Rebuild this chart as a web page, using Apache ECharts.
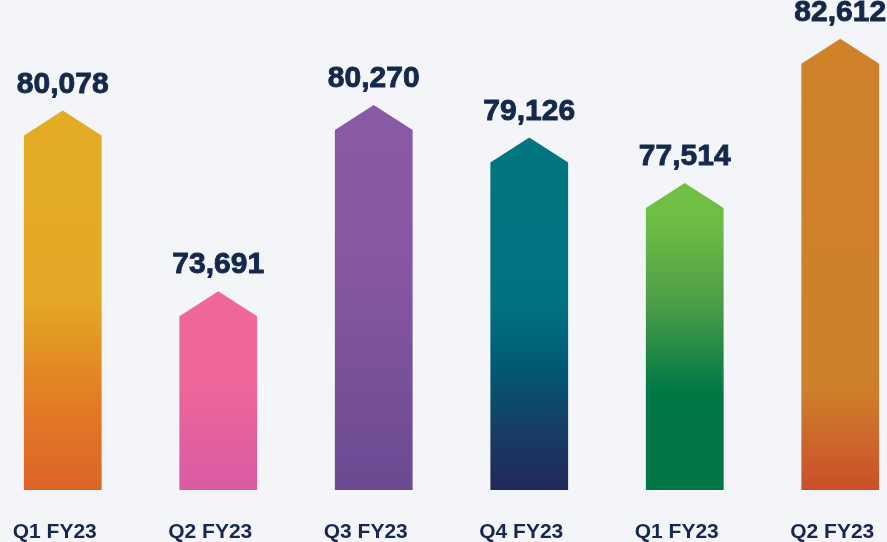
<!DOCTYPE html>
<html>
<head>
<meta charset="utf-8">
<script src="https://cdn.jsdelivr.net/npm/echarts@6/dist/echarts.min.js"></script>
<style>
  html, body { margin: 0; padding: 0; background: #f4f5f8; }
  #main { width: 887px; height: 542px; }
</style>
</head>
<body>
<div id="main"></div>
<script>
// 季度数据
var quarters = ['Q1 FY23', 'Q2 FY23', 'Q3 FY23', 'Q4 FY23', 'Q1 FY23', 'Q2 FY23']
var values = [80078, 73691, 80270, 79126, 77514, 82612]

// 每根柱子的渐变色 (从上到下)
var gradients = [
  [[0, '#e4ac25'], [0.5, '#e3a826'], [0.78, '#e27a25'], [1, '#dd6429']],
  [[0, '#f0679a'], [0.45, '#ef6699'], [1, '#d85ba3']],
  [[0, '#8a5aa4'], [0.4, '#8757a2'], [1, '#6b4a92']],
  [[0, '#00767f'], [0.46, '#007381'], [0.65, '#015a72'], [0.83, '#173d64'], [1, '#21285a']],
  [[0, '#70c044'], [0.12, '#6fbe44'], [0.38, '#4e9f47'], [0.68, '#007845'], [1, '#007745']],
  [[0, '#d08229'], [0.78, '#ce7f2a'], [1, '#ca4f2a']]
]

function fmt (v) {
  return String(v).replace(/\B(?=(\d{3})+(?!\d))/g, ',')
}

var chart = echarts.init(document.getElementById('main'))

chart.setOption({
  backgroundColor: '#f4f5f8',
  animation: false,
  grid: { left: -15, right: -31, top: 42, bottom: 52, outerBoundsMode: 'none', containLabel: false },
  xAxis: {
    type: 'category',
    data: quarters,
    axisLine: { show: false },
    axisTick: { show: false },
    axisLabel: {
      margin: 32,
      color: '#16284c',
      fontFamily: 'Liberation Sans, Arial, sans-serif',
      fontWeight: 'bold',
      fontSize: 21,
      padding: [0, 16, 0, 0]
    }
  },
  yAxis: {
    type: 'value',
    min: 66660,
    max: 82500,
    show: false,
    splitLine: { show: false }
  },
  series: [{
    type: 'custom',
    data: values,
    clip: false,
    renderItem: function (params, api) {
      var idx = params.dataIndex
      var top = api.coord([api.value(0), api.value(1)])
      var base = api.coord([api.value(0), 66660])
      var w = api.size([1, 0])[0] * 0.5
      var tri = 25
      var cx = top[0]
      var pts = [
        [cx - w / 2, base[1]],
        [cx - w / 2, top[1] + tri],
        [cx, top[1]],
        [cx + w / 2, top[1] + tri],
        [cx + w / 2, base[1]]
      ]
      var stops = gradients[idx].map(function (s) { return { offset: s[0], color: s[1] } })
      return {
        type: 'group',
        children: [{
          type: 'polygon',
          shape: { points: pts },
          style: { fill: new echarts.graphic.LinearGradient(0, 0, 0, 1, stops) }
        }, {
          type: 'text',
          x: cx,
          y: top[1] - 11,
          style: {
            text: fmt(values[idx]),
            fill: '#14284b',
            stroke: '#14284b',
            lineWidth: 0.9,
            font: 'bold 30px "Liberation Sans", Arial, sans-serif',
            align: 'center',
            verticalAlign: 'bottom'
          }
        }]
      }
    }
  }]
})
</script>
</body>
</html>
